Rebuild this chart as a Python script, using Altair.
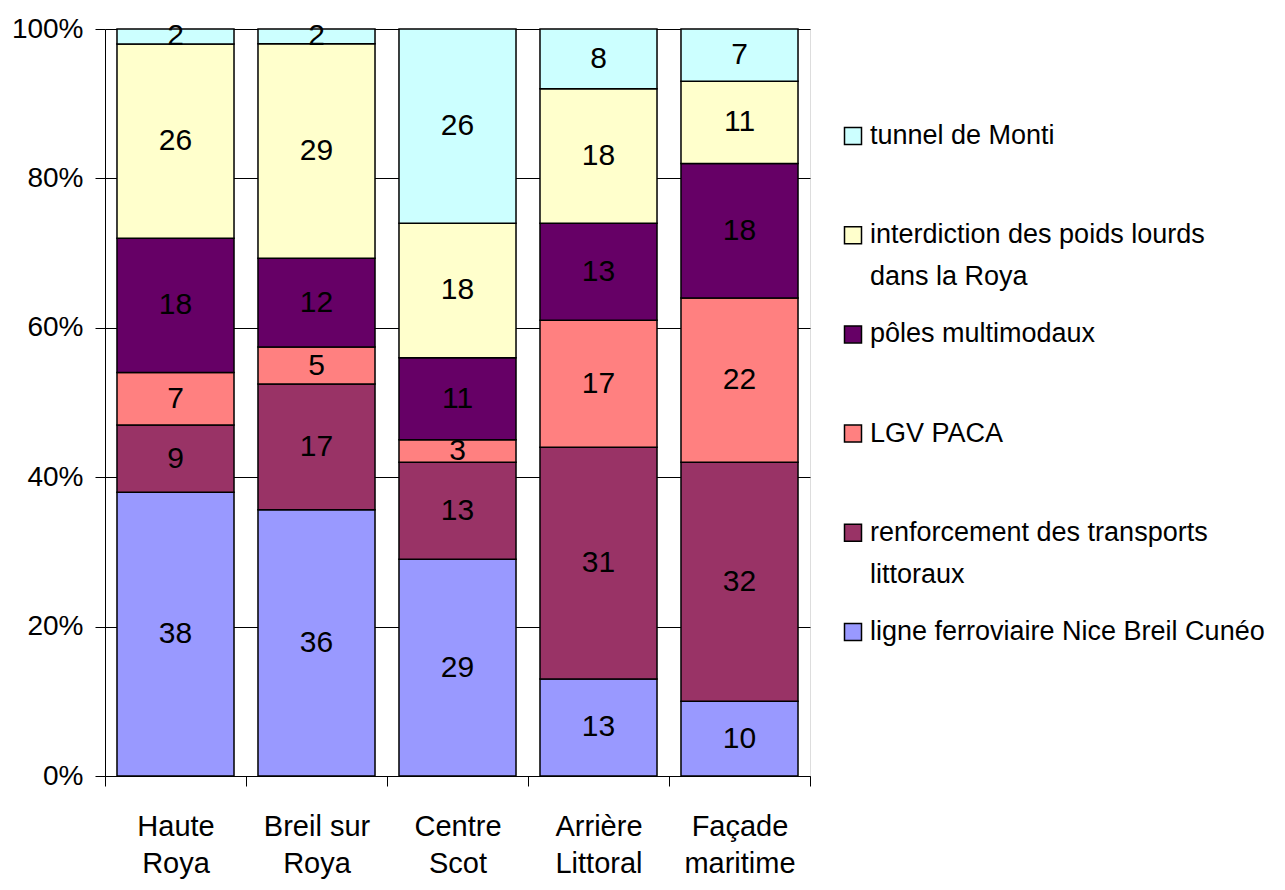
import altair as alt
import pandas as pd

categories = ["Haute\nRoya", "Breil sur\nRoya", "Centre\nScot", "Arrière\nLittoral", "Façade\nmaritime"]
series = [
    "ligne ferroviaire Nice Breil Cunéo",
    "renforcement des transports littoraux",
    "LGV PACA",
    "pôles multimodaux",
    "interdiction des poids lourds dans la Roya",
    "tunnel de Monti",
]
legend_labels = [
    "ligne ferroviaire Nice Breil Cunéo",
    "renforcement des transports\nlittoraux",
    "LGV PACA",
    "pôles multimodaux",
    "interdiction des poids lourds\ndans la Roya",
    "tunnel de Monti",
]
colors = ["#9999FF", "#993366", "#FF8080", "#660066", "#FFFFCC", "#CCFFFF"]

ligne = [38, 36, 29, 13, 10]
renforcement = [9, 17, 13, 31, 32]
lgv = [7, 5, 3, 17, 22]
poles = [18, 12, 11, 13, 18]
interdiction = [26, 29, 18, 18, 11]
tunnel = [2, 2, 26, 8, 7]
values = [ligne, renforcement, lgv, poles, interdiction, tunnel]

rows = []
for si, (s, vals) in enumerate(zip(series, values)):
    for c, v in zip(categories, vals):
        rows.append({"cat": c, "series": s, "order": si, "value": v})
df = pd.DataFrame(rows)

leg_df = pd.DataFrame({"series": series, "label": legend_labels})

FONT = "Liberation Sans"

color = alt.Color("series:N", scale=alt.Scale(domain=series, range=colors), legend=None)

base = alt.Chart(df).transform_stack(
    stack="value",
    as_=["v0", "v1"],
    groupby=["cat"],
    offset="normalize",
    sort=[alt.SortField("order", order="ascending")],
)

xenc = alt.X(
    "cat:N",
    sort=categories,
    title=None,
    scale=alt.Scale(paddingInner=0, paddingOuter=0),
    axis=alt.Axis(
        labelExpr="split(datum.label, '\\n')",
        labelAngle=0,
        labelFont=FONT,
        labelFontSize=29,
        labelLineHeight=37,
        labelColor="black",
        labelBaseline="top",
        labelPadding=26,
        tickBand="extent",
        tickSize=10,
        tickColor="black",
        domainColor="black",
        grid=False,
    ),
)

bars = base.mark_bar(stroke="black", strokeWidth=1.5, width=alt.RelativeBandSize(0.83)).encode(
    x=xenc,
    y=alt.Y(
        "v0:Q",
        scale=alt.Scale(domain=[0, 1]),
        title=None,
        axis=alt.Axis(
            values=[0, 0.2, 0.4, 0.6, 0.8, 1.0],
            format=".0%",
            labelFont=FONT,
            labelFontSize=28,
            labelColor="black",
            labelPadding=12,
            tickSize=10,
            tickColor="black",
            domainColor="black",
            gridColor="black",
            gridWidth=1,
        ),
    ),
    y2="v1:Q",
    color=color,
)

labels = base.transform_calculate(mid="(datum.v0 + datum.v1) / 2").mark_text(
    font=FONT, fontSize=30, color="black", baseline="middle", align="center"
).encode(
    x=alt.X("cat:N", sort=categories),
    y=alt.Y("mid:Q", scale=alt.Scale(domain=[0, 1]), axis=None),
    text=alt.Text("value:Q"),
)

leg_y = alt.Y(
    "series:N",
    sort=list(reversed(series)),
    scale=alt.Scale(type="point", range=[107, 603], padding=0),
    axis=None,
)

leg_sym = alt.Chart(leg_df).mark_square(size=289, stroke="black", strokeWidth=1.5, opacity=1).encode(
    x=alt.value(748),
    y=leg_y,
    color=color,
)

leg_txt = alt.Chart(leg_df).mark_text(
    font=FONT, fontSize=27, color="black", align="left",
    baseline="alphabetic", lineBreak="\n", lineHeight=42, dy=8,
).encode(
    x=alt.value(765),
    y=leg_y,
    text="label:N",
)

chart = alt.layer(bars, labels, leg_sym, leg_txt).resolve_scale(
    y="independent"
).properties(
    width=705,
    height=747,
    padding={"left": 97, "top": 21, "right": 467, "bottom": 114},
    autosize=alt.AutoSizeParams(type="none"),
).configure_view(stroke=None).configure(background="white")

chart.save("out.html", embed_options={"renderer": "svg", "actions": False})
